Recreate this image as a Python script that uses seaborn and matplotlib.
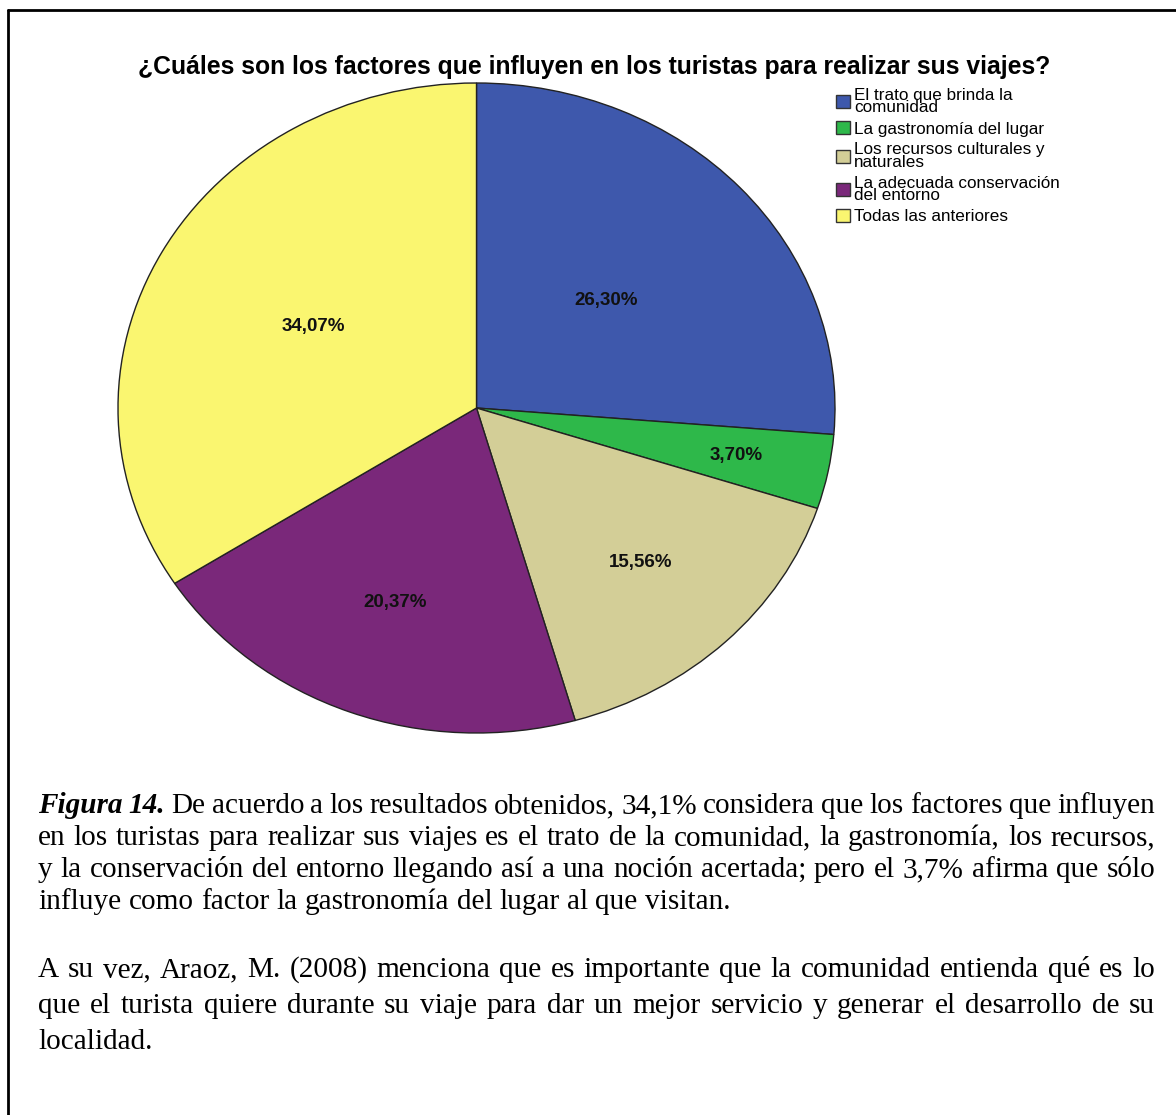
import matplotlib
matplotlib.use("Agg")
import matplotlib.pyplot as plt
from matplotlib.lines import Line2D
from matplotlib.patches import Patch
import seaborn as sns
import numpy as np

# Datos del gráfico
categorias = [
    "El trato que brinda la\ncomunidad",
    "La gastronomía del lugar",
    "Los recursos culturales y\nnaturales",
    "La adecuada conservación\ndel entorno",
    "Todas las anteriores",
]
porcentajes = [26.30, 3.70, 15.56, 20.37, 34.07]
colores = ["#3E58AC", "#2EB84A", "#D3CE97", "#7A287A", "#FAF670"]
# distancia radial de cada etiqueta (estilo SPSS)
dist_etiquetas = [0.49, 0.74, 0.66, 0.64, 0.52]

titulo = "¿Cuáles son los factores que influyen en los turistas para realizar sus viajes?"

parrafo1 = [
    [("Figura 14.", "bi"), ("De acuerdo a los resultados obtenidos, 34,1% considera que los factores que influyen", "n")],
    [("en los turistas para realizar sus viajes es el trato de la comunidad, la gastronomía, los recursos,", "n")],
    [("y la conservación del entorno llegando así a una noción acertada; pero el 3,7% afirma que sólo", "n")],
    [("influye como factor la gastronomía del lugar al que visitan.", "n")],
]
parrafo2 = [
    [("A su vez, Araoz, M. (2008) menciona que es importante que la comunidad entienda qué es lo", "n")],
    [("que el turista quiere durante su viaje para dar un mejor servicio y generar el desarrollo de su", "n")],
    [("localidad.", "n")],
]

W, H = 1176, 1115
sns.set_theme(style="white")
plt.rcParams['font.family'] = ['Liberation Sans', 'DejaVu Sans']
plt.rcParams['text.color'] = 'black'

fig = plt.figure(figsize=(W / 100, H / 100), dpi=100)
fig.patch.set_facecolor("white")

# Pie (elíptico como en SPSS)
ax = fig.add_axes([118 / W, 1 - 733 / H, 717 / W, 650 / H])
wedges, texts, autotexts = ax.pie(
    porcentajes, colors=colores, startangle=90, counterclock=False,
    autopct=lambda p: f"{p:.2f}%".replace(".", ","),
    wedgeprops=dict(edgecolor="#222222", linewidth=1.0),
    textprops=dict(fontsize=13.5, fontweight="bold", color="#111111"),
)
ax.set_aspect("auto")
ax.set_xlim(-1, 1)
ax.set_ylim(-1, 1)
for w, t, d in zip(wedges, autotexts, dist_etiquetas):
    w.set_clip_on(False)
    ang = np.deg2rad((w.theta1 + w.theta2) / 2)
    t.set_position((d * np.cos(ang), d * np.sin(ang)))

fig.text(594 / W, 1 - 67 / H, titulo, ha="center", va="center",
         fontsize=17.8, fontweight="bold")

handles = [Patch(facecolor=c, edgecolor="#333333", label=l) for c, l in zip(colores, categorias)]
leg = fig.legend(handles=handles, loc="upper left", bbox_to_anchor=(836 / W, 1 - 88 / H),
                 frameon=False, fontsize=12.3, handlelength=0.8, handleheight=0.8,
                 handletextpad=0.25, labelspacing=0.34, borderpad=0, borderaxespad=0)
for t in leg.get_texts():
    t.set_linespacing(0.78)

# Marco
fig.add_artist(Line2D([8 / W, 1], [1 - 10 / H, 1 - 10 / H], transform=fig.transFigure, color="black", lw=2))
fig.add_artist(Line2D([8 / W, 8 / W], [0, 1 - 10 / H], transform=fig.transFigure, color="black", lw=2))

# Texto justificado
renderer = fig.canvas.get_renderer()
X0, X1 = 38, 1155
FS = 21.1
estilos = {"n": {}, "bi": {"fontweight": "bold", "fontstyle": "italic"}}


def linea(y, partes, justificar=True):
    palabras = [(p, e) for txt, e in partes for p in txt.split()]
    objs = [fig.text(0, 1 - y / H, p, fontsize=FS, family=["Liberation Serif"],
                     va="baseline", ha="left", **estilos[e]) for p, e in palabras]
    anchos = [o.get_window_extent(renderer).width for o in objs]
    if justificar and len(objs) > 1:
        gap = (X1 - X0 - sum(anchos)) / (len(objs) - 1)
    else:
        gap = FS * 100 / 72 * 0.25
    x = X0
    for o, a in zip(objs, anchos):
        o.set_x(x / W)
        x += a + gap


for i, partes in enumerate(parrafo1):
    linea(813 + 32 * i, partes, justificar=i < len(parrafo1) - 1)
for i, partes in enumerate(parrafo2):
    linea(977 + 36 * i, partes, justificar=i < len(parrafo2) - 1)

fig.savefig("out.png", dpi=100)
